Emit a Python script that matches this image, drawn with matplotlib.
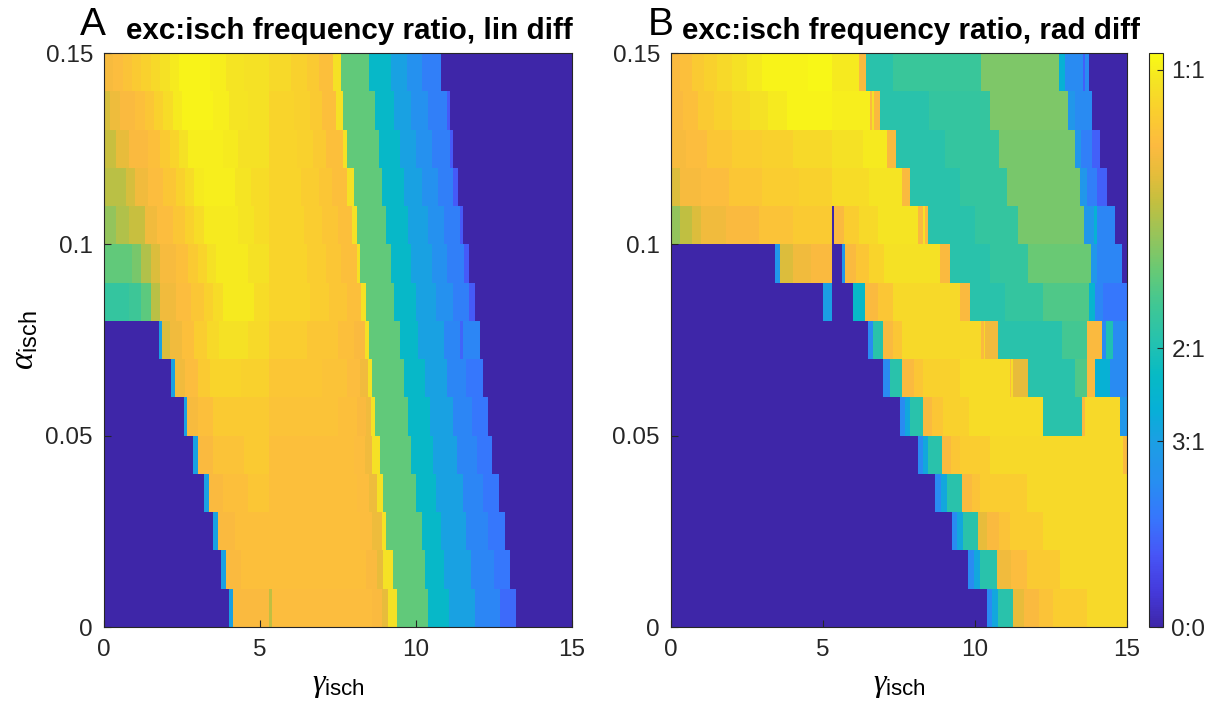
import numpy as np
import matplotlib
matplotlib.use("Agg")
import matplotlib.pyplot as plt
from matplotlib.colors import LinearSegmentedColormap, Normalize
from matplotlib.cm import ScalarMappable

plt.rcParams['font.family'] = ['Liberation Sans', 'DejaVu Sans']
plt.rcParams['mathtext.fontset'] = 'custom'
plt.rcParams['mathtext.rm'] = 'Liberation Sans'
plt.rcParams['mathtext.it'] = 'Liberation Serif:italic'

# ---- data ----
# alpha_isch bins: 15 rows of width 0.01, listed from the top row (0.14-0.15) down
alpha_top = 0.15
alpha_step = 0.01
gamma_max = 15.0

# each row: (gamma where a run starts, isch:exc ratio) -- a run lasts to the next start
lin_rows = [
    [(0, .85), (.3, .87), (.6, .89), (.9, .91), (1.2, .93), (1.5, .95), (1.8, .97), (2.1, .99), (2.4, 1.01), (3.4, 1.0), (3.9, .98), (4.5, .97), (5.3, .95), (6.0, .93), (6.5, .91), (6.9, .88), (7.35, .97), (7.6, .63), (8.5, .44), (9.2, .34), (9.7, .27), (10.2, .22), (10.8, 0)],
    [(0, .79), (.2, .83), (.5, .86), (1.0, .88), (1.3, .90), (1.6, .93), (1.9, .96), (2.2, .99), (2.5, 1.01), (3.5, 1.0), (4.0, .98), (4.6, .97), (5.3, .94), (6.1, .93), (6.6, .91), (7.0, .88), (7.45, .97), (7.65, .63), (8.7, .44), (9.3, .34), (9.85, .27), (10.4, .22), (11.0, .14), (11.1, 0)],
    [(0, .77), (.4, .82), (.8, .86), (1.4, .88), (1.8, .91), (2.1, .94), (2.4, .97), (2.7, 1.0), (3.8, .99), (4.3, .97), (5.3, .94), (6.2, .93), (6.7, .91), (7.1, .88), (7.65, .97), (7.8, .63), (8.8, .44), (9.5, .34), (10.0, .27), (10.5, .22), (11.1, .14), (11.2, 0)],
    [(0, .75), (.7, .79), (1.0, .84), (1.4, .87), (1.9, .90), (2.3, .93), (2.6, .96), (2.9, .99), (3.2, 1.0), (4.2, .98), (4.7, .96), (5.3, .94), (6.3, .92), (6.9, .90), (7.3, .88), (7.8, .97), (8.0, .63), (8.9, .44), (9.6, .34), (10.2, .27), (10.7, .22), (11.2, .14), (11.35, 0)],
    [(0, .70), (.4, .74), (.8, .77), (1.3, .84), (1.7, .87), (2.2, .90), (2.6, .93), (2.9, .96), (3.2, .99), (4.3, .98), (4.8, .96), (5.3, .94), (6.4, .92), (7.0, .90), (7.5, .88), (7.95, .97), (8.1, .63), (9.05, .44), (9.75, .34), (10.4, .27), (10.9, .22), (11.4, .14), (11.5, 0)],
    [(0, .63), (.9, .66), (1.2, .74), (1.5, .80), (1.8, .85), (2.3, .88), (2.7, .91), (3.0, .94), (3.3, .97), (3.6, .99), (4.6, .97), (5.3, .94), (6.5, .92), (7.1, .90), (7.6, .88), (8.1, .97), (8.2, .63), (9.2, .44), (9.85, .34), (10.5, .27), (11.0, .22), (11.55, .14), (11.7, 0)],
    [(0, .55), (.8, .57), (1.2, .62), (1.5, .75), (1.8, .84), (2.3, .87), (2.8, .90), (3.2, .93), (3.5, .96), (3.8, .99), (4.8, .96), (5.3, .94), (6.6, .92), (7.2, .90), (7.8, .88), (8.25, .97), (8.4, .63), (9.3, .44), (10.0, .34), (10.65, .27), (11.2, .22), (11.7, .14), (11.9, 0)],
    [(0, 0), (1.75, .34), (1.85, .80), (2.1, .84), (2.5, .88), (2.9, .92), (3.3, .95), (3.7, .97), (4.6, .95), (5.3, .92), (6.5, .90), (7.5, .88), (8.0, .86), (8.35, .97), (8.5, .63), (9.5, .44), (10.05, .34), (10.9, .24), (11.4, .16), (11.5, .24), (12.05, 0)],
    [(0, 0), (2.15, .34), (2.28, .84), (2.6, .87), (3.0, .91), (3.4, .94), (4.4, .93), (5.3, .90), (7.0, .89), (7.8, .87), (8.2, .84), (8.45, .97), (8.6, .63), (9.6, .44), (10.3, .34), (11.0, .24), (11.6, .2), (12.15, 0)],
    [(0, 0), (2.55, .34), (2.65, .85), (3.0, .88), (3.5, .91), (4.6, .91), (5.3, .89), (7.5, .88), (8.1, .86), (8.4, .84), (8.55, .97), (8.7, .63), (9.75, .44), (10.45, .34), (11.2, .24), (11.8, .2), (12.3, 0)],
    [(0, 0), (2.85, .34), (3.0, .86), (3.5, .89), (4.5, .91), (5.3, .88), (8.0, .87), (8.35, .84), (8.6, .97), (8.85, .63), (9.85, .44), (10.55, .34), (11.3, .24), (11.95, .2), (12.45, 0)],
    [(0, 0), (3.2, .34), (3.35, .86), (3.8, .88), (4.6, .90), (5.3, .88), (8.1, .87), (8.5, .83), (8.75, .97), (8.95, .63), (10.0, .44), (10.65, .34), (11.5, .24), (12.15, .2), (12.65, 0)],
    [(0, 0), (3.5, .34), (3.65, .86), (4.2, .88), (5.3, .88), (8.2, .87), (8.6, .83), (8.9, .97), (9.05, .63), (10.2, .44), (10.8, .34), (11.6, .24), (12.3, .2), (12.85, 0)],
    [(0, 0), (3.75, .34), (3.9, .86), (4.4, .88), (5.3, .88), (8.4, .86), (8.75, .82), (8.95, .97), (9.25, .63), (10.3, .44), (10.9, .34), (11.75, .24), (12.5, .2), (13.0, 0)],
    [(0, 0), (4.0, .34), (4.12, .86), (5.3, .76), (5.4, .87), (8.6, .86), (8.9, .82), (9.1, .97), (9.4, .63), (10.4, .44), (11.05, .34), (11.9, .24), (12.7, .17), (13.2, 0)],
]

rad_rows = [
    [(0, .86), (.3, .88), (.7, .91), (1.1, .93), (1.5, .95), (2.0, .97), (2.5, .99), (3.0, 1.01), (4.5, 1.02), (5.3, .99), (6.2, .86), (6.4, .52), (7.3, .56), (10.2, .67), (12.75, .40), (12.95, .25), (13.55, .15), (13.62, .25), (13.75, 0)],
    [(0, .86), (.4, .88), (.9, .91), (1.4, .93), (2.0, .95), (2.6, .97), (3.2, .99), (3.8, 1.01), (5.3, 1.0), (6.55, .86), (6.62, .97), (6.68, .86), (6.87, .52), (8.5, .55), (10.5, .67), (13.05, .3), (13.3, .25), (13.85, 0)],
    [(0, .85), (.5, .87), (1.2, .90), (2.0, .92), (3.0, .93), (4.0, .95), (5.3, .97), (6.3, .99), (7.1, .86), (7.4, .52), (9.0, .55), (10.8, .66), (13.3, .3), (13.5, .22), (13.85, .15), (14.1, 0)],
    [(0, .8), (.3, .85), (1.0, .87), (1.9, .90), (3.0, .92), (4.2, .93), (5.3, .96), (6.5, .98), (7.6, .86), (7.85, .52), (9.5, .55), (11.05, .66), (13.45, .3), (13.7, .22), (14.0, .15), (14.35, 0)],
    [(0, .7), (.3, .76), (.7, .80), (1.0, .84), (1.8, .86), (2.9, .89), (4.0, .91), (5.29, 0), (5.36, .86), (5.7, .92), (6.2, .95), (6.8, .98), (8.14, .86), (8.3, .97), (8.36, .86), (8.46, .52), (10.0, .55), (11.4, .66), (13.6, .3), (13.9, .4), (14.0, .24), (14.6, 0)],
    [(0, 0), (3.42, .3), (3.59, .8), (4.0, .84), (4.6, .86), (5.29, 0), (5.61, .3), (5.72, .86), (6.1, .9), (6.5, .94), (7.0, .97), (8.85, .86), (9.18, .52), (10.5, .55), (11.75, .64), (13.8, .3), (14.0, .24), (14.85, 0)],
    [(0, 0), (5.01, .33), (5.29, 0), (6.0, .44), (6.38, .86), (6.8, .9), (7.31, .95), (9.51, .86), (9.84, .52), (11.0, .55), (12.25, .6), (13.75, .42), (13.95, .24), (14.2, .2)],
    [(0, 0), (6.49, .25), (6.66, .52), (6.98, .86), (7.3, .9), (7.6, .95), (10.2, .86), (10.28, .95), (10.33, .84), (10.77, .52), (12.85, .58), (13.67, .86), (14.17, .25), (14.3, .5), (14.55, .25)],
    [(0, 0), (6.98, .25), (7.2, .52), (7.59, .86), (8.0, .9), (8.3, .93), (9.5, .96), (11.15, .86), (11.2, .96), (11.26, .82), (11.75, .52), (13.29, .6), (13.67, .86), (13.95, .4), (14.45, .25)],
    [(0, 0), (7.53, .25), (7.7, .36), (7.86, .52), (8.3, .86), (8.6, .9), (8.96, .93), (9.8, .96), (12.25, .52), (13.51, .86), (13.62, .95), (14.77, .3)],
    [(0, 0), (8.14, .25), (8.3, .36), (8.46, .52), (8.9, .86), (9.2, .9), (9.5, .92), (10.5, .95), (14.88, .86)],
    [(0, 0), (8.68, .25), (8.88, .36), (9.07, .52), (9.56, .86), (9.9, .89), (10.16, .92), (11.7, .95)],
    [(0, 0), (9.23, .25), (9.42, .36), (9.62, .52), (10.11, .82), (10.4, .86), (10.8, .89), (11.15, .92), (12.25, .95)],
    [(0, 0), (9.78, .25), (9.97, .36), (10.16, .52), (10.71, .84), (11.2, .87), (11.7, .91), (12.8, .95)],
    [(0, 0), (10.38, .25), (10.57, .36), (10.77, .52), (11.26, .82), (11.6, .86), (12.1, .89), (12.58, .92), (13.67, .95)],
]

cbar_ticks = [0, 1 / 3, 1 / 2, 1]
cbar_labels = ['0:0', '3:1', '2:1', '1:1']
ratio_max = 1.03

# parula-like colormap
parula_pts = [
    (0.000, (0.242, 0.150, 0.660)),
    (0.060, (0.268, 0.225, 0.860)),
    (0.125, (0.278, 0.335, 0.968)),
    (0.190, (0.215, 0.465, 0.990)),
    (0.250, (0.155, 0.555, 0.945)),
    (0.320, (0.110, 0.620, 0.895)),
    (0.380, (0.025, 0.690, 0.840)),
    (0.440, (0.030, 0.730, 0.770)),
    (0.500, (0.150, 0.760, 0.680)),
    (0.560, (0.250, 0.780, 0.580)),
    (0.620, (0.400, 0.790, 0.460)),
    (0.680, (0.580, 0.770, 0.360)),
    (0.740, (0.760, 0.750, 0.250)),
    (0.790, (0.900, 0.740, 0.230)),
    (0.840, (0.990, 0.730, 0.250)),
    (0.900, (0.980, 0.810, 0.180)),
    (0.950, (0.960, 0.890, 0.140)),
    (1.000, (0.977, 0.984, 0.081)),
]
cmap = LinearSegmentedColormap.from_list('parula', parula_pts, N=256)
norm = Normalize(vmin=0, vmax=ratio_max)

W, H = 1207, 715
fig = plt.figure(figsize=(W / 100, H / 100), dpi=100)

frame_col = (0.15, 0.15, 0.15)


def draw_panel(ax, rows):
    for i, row in enumerate(rows):
        top = alpha_top - i * alpha_step
        starts = [s for s, v in row]
        vals = [v for s, v in row]
        edges = starts + [gamma_max]
        ax.pcolormesh(edges, [top - alpha_step, top], [vals], cmap=cmap, norm=norm,
                      shading='flat', antialiased=False, edgecolor='none')
    ax.set_xlim(0, gamma_max)
    ax.set_ylim(0, alpha_top)
    ax.set_xticks([0, 5, 10, 15])
    ax.set_xticklabels(['0', '5', '10', '15'])
    ax.set_yticks([0, 0.05, 0.1, 0.15])
    ax.set_yticklabels(['0', '0.05', '0.1', '0.15'])
    ax.tick_params(direction='in', length=5, width=0.8, color=frame_col,
                   labelsize=17.5, labelcolor='#262626')
    ax.tick_params(axis='x', pad=9)
    ax.tick_params(axis='y', pad=8)
    for sp in ax.spines.values():
        sp.set_color(frame_col)
        sp.set_linewidth(0.8)
    ax.set_xlabel(r'$\gamma_{\mathrm{isch}}$', fontsize=23, labelpad=6)


bot = (H - 627) / H
hgt = 574 / H
axA = fig.add_axes([104 / W, bot, 468 / W, hgt])
axB = fig.add_axes([671 / W, bot, 456 / W, hgt])
draw_panel(axA, lin_rows)
draw_panel(axB, rad_rows)
axA.set_ylabel(r'$\alpha_{\mathrm{isch}}$', fontsize=24, labelpad=4)

# colorbar
cax = fig.add_axes([1149 / W, bot, 14 / W, hgt])
cb = fig.colorbar(ScalarMappable(norm=norm, cmap=cmap), cax=cax)
cb.set_ticks(cbar_ticks)
cb.set_ticklabels(cbar_labels)
cb.ax.tick_params(direction='in', length=4, width=0.8, color=frame_col,
                  labelsize=17.5, labelcolor='#262626', pad=6)
cb.outline.set_edgecolor(frame_col)
cb.outline.set_linewidth(0.8)

# panel letters and titles
fig.text(93 / W, 1 - 35 / H, 'A', fontsize=28, ha='center', va='baseline')
fig.text(661 / W, 1 - 35 / H, 'B', fontsize=28, ha='center', va='baseline')
fig.text(349 / W, 1 - 39 / H, 'exc:isch frequency ratio, lin diff', fontsize=21.3,
         fontweight='bold', ha='center', va='baseline')
fig.text(911 / W, 1 - 39 / H, 'exc:isch frequency ratio, rad diff', fontsize=21.3,
         fontweight='bold', ha='center', va='baseline')

fig.savefig('out.png', dpi=100)
